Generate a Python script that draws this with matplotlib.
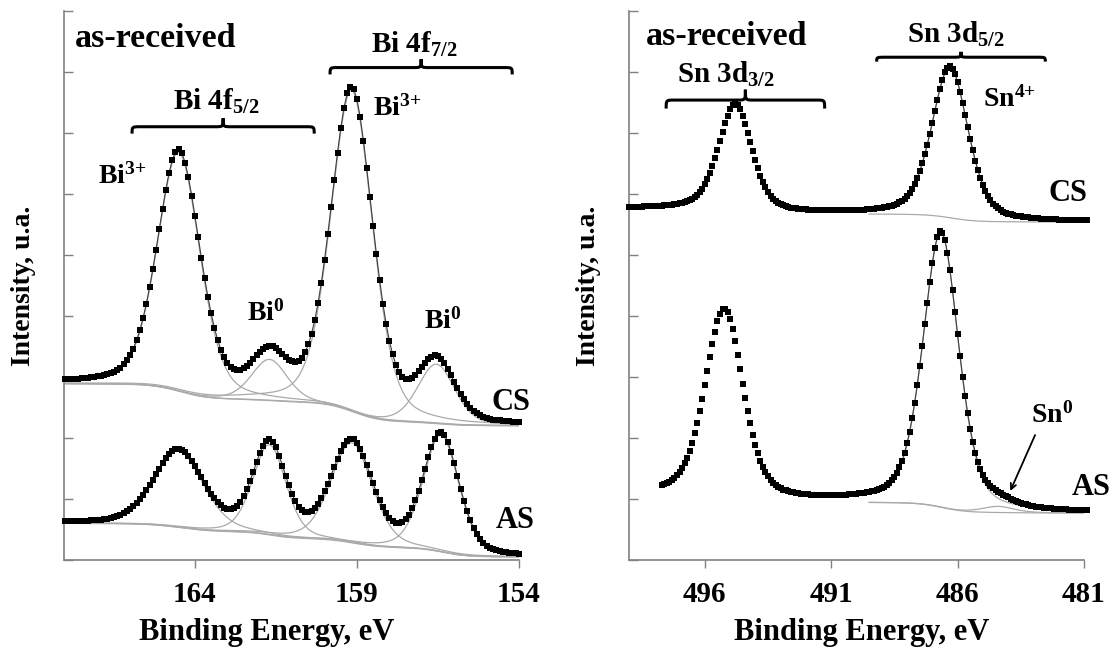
import numpy as np
import matplotlib
matplotlib.use('Agg')
import matplotlib.pyplot as plt
from matplotlib.path import Path
from matplotlib.patches import PathPatch

plt.rcParams['font.family'] = ['Liberation Serif', 'DejaVu Serif']
plt.rcParams['font.weight'] = 'bold'
plt.rcParams['mathtext.fontset'] = 'custom'
plt.rcParams['mathtext.rm'] = 'Liberation Serif:bold'
plt.rcParams['mathtext.it'] = 'Liberation Serif:bold'
plt.rcParams['mathtext.bf'] = 'Liberation Serif:bold'
plt.rcParams['mathtext.default'] = 'rm'

# values, intensity in y-tick units (0..9)
# Bi 4f: Bi3+ 4f5/2, Bi0 4f5/2, Bi3+ 4f7/2, Bi0 4f7/2
bi_range = [168.0, 154.0]
bi_cs_centers = [164.5, 161.7, 159.16, 156.55]
bi_cs_tops = [6.73, 3.51, 7.76, 3.35]
bi_cs_fwhm = [1.55, 1.3, 1.52, 1.35]
bi_cs_bg = [2.89, 2.2]
bi_as_centers = [164.5, 161.7, 159.16, 156.4]
bi_as_tops = [1.82, 1.98, 1.99, 2.10]
bi_as_fwhm = [1.8, 1.2, 1.5, 1.3]
bi_as_bg = [0.6, 0.05]

# Sn 3d: 3d3/2, 3d5/2 (Sn4+), plus small Sn0 in AS
sn_cs_range = [499.0, 480.85]
sn_cs_centers = [494.79, 486.3]
sn_cs_tops = [7.48, 8.09]
sn_cs_fwhm = [1.55, 1.7]
sn_cs_bg = [5.76, 5.54]
sn_as_range = [497.7, 480.85]
sn_as_centers = [495.23, 486.66]
sn_as_tops = [4.12, 5.39]
sn_as_fwhm = [1.77, 1.67]
sn_as_bg = [1.07, 0.77]
sn0_center, sn0_height, sn0_fwhm = 484.4, 0.1, 1.5

STEP = 0.1


def pv(e, c, w, eta):
    d = (np.asarray(e) - c) / w
    return (1 - eta) * np.exp(-4 * np.log(2) * d ** 2) + eta / (1 + 4 * d ** 2)


def shirley(comp_sum, hi, lo):
    cum = np.cumsum(comp_sum[::-1])[::-1]
    return lo + (hi - lo) * cum / cum[0]


def build(erange, centers, tops, fwhm, eta, bg, extra=None):
    energy = np.arange(erange[0], erange[1] - STEP / 2, -STEP)
    shapes = np.array([pv(energy, c, w, eta) for c, w in zip(centers, fwhm)])
    M = np.array([[pv(ci, cj, wj, eta) for cj, wj in zip(centers, fwhm)] for ci in centers])
    extra_comp = np.zeros_like(energy)
    extra_at_c = np.zeros(len(centers))
    if extra is not None:
        extra_comp = extra[1] * pv(energy, extra[0], extra[2], eta)
        extra_at_c = extra[1] * pv(np.array(centers), extra[0], extra[2], eta)
    background = np.linspace(bg[0], bg[1], len(energy))
    for _ in range(25):
        bg_at_c = np.interp(centers, energy[::-1], background[::-1])
        amps = np.linalg.solve(M, np.array(tops) - bg_at_c - extra_at_c)
        comps = amps[:, None] * shapes
        background = shirley(comps.sum(0) + extra_comp, bg[0], bg[1])
    comps = list(comps)
    if extra is not None:
        comps.append(extra_comp)
    total = background + np.sum(comps, axis=0)
    return energy, total, background, comps


def draw(ax, energy, total, background, comps, ms, emax=None):
    mask = np.ones_like(energy, dtype=bool) if emax is None else energy <= emax
    ax.plot(energy[mask], background[mask], color='#aaaaaa', lw=0.9, zorder=1)
    for comp in comps:
        ax.plot(energy[mask], (background + comp)[mask], color='#aaaaaa', lw=0.9, zorder=1)
    ax.plot(energy[mask], total[mask], color='#404040', lw=0.8, zorder=2)
    ax.plot(energy, total, 's', color='black', ms=ms, mew=0, zorder=3, clip_on=False)


def brace(ax, x1, x2, y0, h, q):
    xm = (x1 + x2) / 2
    yb = y0 + h * 0.45
    verts = [(x1, y0), (x1, yb), (x1, yb), (x1 - q, yb),
             (xm + q, yb),
             (xm, yb), (xm, yb), (xm, y0 + h),
             (xm, yb), (xm, yb), (xm - q, yb),
             (x2 + q, yb),
             (x2, yb), (x2, yb), (x2, y0)]
    codes = [Path.MOVETO] + [Path.CURVE4] * 3 + [Path.LINETO] + [Path.CURVE4] * 6 + \
            [Path.LINETO] + [Path.CURVE4] * 3
    ax.add_patch(PathPatch(Path(verts, codes), fill=False, lw=2.2, ec='black', clip_on=False))


def style(ax, xlim, xticks):
    ax.set_xlim(*xlim)
    ax.set_ylim(0, 9)
    ax.set_xticks(xticks)
    ax.set_xticklabels([str(t) for t in xticks])
    ax.set_yticks(range(10))
    ax.set_yticklabels([])
    for s in ['top', 'right']:
        ax.spines[s].set_visible(False)
    for s in ['left', 'bottom']:
        ax.spines[s].set_color('#808080')
        ax.spines[s].set_linewidth(1.2)
    ax.tick_params(axis='y', direction='in', length=6.5, width=1, color='#808080')
    ax.tick_params(axis='x', direction='out', length=6, width=1, color='#808080', pad=9, labelsize=21)
    ax.set_xlabel('Binding Energy, eV', fontsize=22, fontweight='bold')
    ax.set_ylabel('Intensity, u.a.', fontsize=20, fontweight='bold', va='center')
    ax.yaxis.set_label_coords(-0.09, 0.5)


fig = plt.figure(figsize=(11.19, 6.5), dpi=100)
ax1 = fig.add_axes([0.0572, 0.1385, 0.4066, 0.8446])
ax2 = fig.add_axes([0.5621, 0.1385, 0.4066, 0.8446])

# left panel: Bi 4f
e, tot, bg, comps = build(bi_range, bi_cs_centers, bi_cs_tops, bi_cs_fwhm, 0.3, bi_cs_bg)
draw(ax1, e, tot, bg, comps, 3.7)
e, tot, bg, comps = build(bi_range, bi_as_centers, bi_as_tops, bi_as_fwhm, 0.3, bi_as_bg)
draw(ax1, e, tot, bg, comps, 3.7)
style(ax1, (168.04, 154.0), [164, 159, 154])
ax1.xaxis.set_label_coords(0.446, -0.106)

ax1.text(167.7, 8.55, 'as-received', fontsize=24.5, ha='left', va='center')
ax1.text(157.24, 8.45, r'Bi 4f$_{7/2}$', fontsize=21, ha='center', va='center')
ax1.text(163.35, 7.52, r'Bi 4f$_{5/2}$', fontsize=21, ha='center', va='center')
ax1.text(166.25, 6.29, r'Bi$^{3{+}}$', fontsize=20, ha='center', va='center')
ax1.text(157.76, 7.40, r'Bi$^{3{+}}$', fontsize=20, ha='center', va='center')
ax1.text(161.8, 4.04, r'Bi$^{0}$', fontsize=20, ha='center', va='center')
ax1.text(156.34, 3.92, r'Bi$^{0}$', fontsize=20, ha='center', va='center')
ax1.text(154.24, 2.58, 'CS', fontsize=22, ha='center', va='center')
ax1.text(154.12, 0.65, 'AS', fontsize=22, ha='center', va='center')
brace(ax1, 159.83, 154.21, 7.96, 0.25, 0.25)
brace(ax1, 165.94, 160.32, 6.99, 0.25, 0.25)

# right panel: Sn 3d
e, tot, bg, comps = build(sn_cs_range, sn_cs_centers, sn_cs_tops, sn_cs_fwhm, 0.4, sn_cs_bg)
draw(ax2, e, tot, bg, comps[1:], 4.5, emax=489.5)
e, tot, bg, comps = build(sn_as_range, sn_as_centers, sn_as_tops, sn_as_fwhm, 0.4, sn_as_bg,
                          extra=(sn0_center, sn0_height, sn0_fwhm))
draw(ax2, e, tot, bg, comps[1:], 4.5, emax=489.5)
style(ax2, (499.0, 481.0), [496, 491, 486, 481])
ax2.xaxis.set_label_coords(0.512, -0.106)

ax2.text(498.33, 8.58, 'as-received', fontsize=24.5, ha='left', va='center')
ax2.text(486.06, 8.61, r'Sn 3d$_{5/2}$', fontsize=21, ha='center', va='center')
ax2.text(495.15, 7.96, r'Sn 3d$_{3/2}$', fontsize=21, ha='center', va='center')
ax2.text(483.96, 7.55, r'Sn$^{4{+}}$', fontsize=20, ha='center', va='center')
ax2.text(481.62, 6.0, 'CS', fontsize=22, ha='center', va='center')
ax2.text(480.71, 1.18, 'AS', fontsize=22, ha='center', va='center')
ax2.text(482.25, 2.37, r'Sn$^{0}$', fontsize=20, ha='center', va='center')
ax2.annotate('', xy=(483.96, 1.09), xytext=(482.89, 2.09),
             arrowprops=dict(arrowstyle='->', color='black', lw=1.3))
brace(ax2, 489.2, 482.53, 8.17, 0.16, 0.32)
brace(ax2, 497.53, 491.26, 7.40, 0.31, 0.32)

fig.savefig('out.png', dpi=100)
